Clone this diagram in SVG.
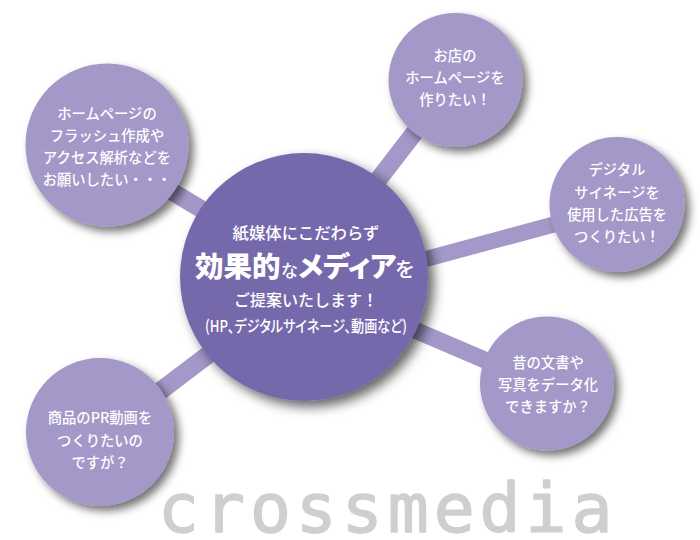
<svg xmlns="http://www.w3.org/2000/svg" width="700" height="540" viewBox="0 0 700 540">
<style>
.jp{font-family:"Noto Sans CJK JP","Noto Sans",sans-serif;fill:#fff;text-anchor:middle;font-size:14.3px;font-weight:500}
.sat{fill:#a398c7;filter:url(#sh)}
.hub{fill:#7669ab;filter:url(#shb)}
.st{text-anchor:start}
</style>
<defs>
<filter id="sh" x="-30%" y="-30%" width="170%" height="170%"><feDropShadow dx="5" dy="5" stdDeviation="4.5" flood-color="#000" flood-opacity="0.55"/></filter>
<filter id="shb" x="-30%" y="-30%" width="170%" height="170%"><feDropShadow dx="6" dy="6" stdDeviation="6" flood-color="#000" flood-opacity="0.6"/></filter>
</defs>
<rect width="700" height="540" fill="#fff"/>
<text id="crossmedia" x="158" y="532" font-family="'DejaVu Sans Mono',monospace" font-size="68" letter-spacing="5" fill="#cfcfcf" stroke="#cfcfcf" stroke-width="1.5" stroke-linejoin="round">crossmedia</text>
<g id="connectors" stroke="#a398c7" fill="none">
<line x1="150" y1="178.4" x2="240" y2="232.4" stroke-width="18"/>
<line x1="439.6" y1="100" x2="349.6" y2="217" stroke-width="18"/>
<line x1="600" y1="212" x2="400" y2="266" stroke-width="16"/>
<line x1="400" y1="323.7" x2="520" y2="375" stroke-width="17"/>
<line x1="130" y1="414" x2="250" y2="323" stroke-width="18"/>
</g>
<g id="node-hub"><circle class="hub" cx="304" cy="277" r="124"/>
<text class="jp" x="306" y="239" style="font-size:16.4px">紙媒体にこだわらず</text>
<text class="jp st" y="277" style="font-weight:900"><tspan x="195" style="font-size:28.5px">効果的</tspan><tspan x="281" style="font-size:17px;font-weight:500">な</tspan><tspan x="298" style="font-size:28px;font-feature-settings:'palt'">メディア</tspan><tspan x="395" style="font-size:20px;font-weight:500">を</tspan></text>
<text class="jp" x="306" y="305.5" style="font-size:16px">ご提案いたします！</text>
<text class="jp" x="306" y="332" style="font-size:16px;font-feature-settings:'palt'" textLength="202" lengthAdjust="spacingAndGlyphs">(HP、デジタルサイネージ、動画など)</text></g>
<g id="node-tl"><circle class="sat" cx="107" cy="145" r="81.5"/>
<text class="jp" x="107" y="118.5">ホームページの</text><text class="jp" x="107" y="140.5">フラッシュ作成や</text><text class="jp" x="107" y="163">アクセス解析などを</text><text class="jp" x="107" y="185">お願いしたい・・・</text></g>
<g id="node-tr"><circle class="sat" cx="455.5" cy="80" r="67"/>
<text class="jp" x="455" y="61">お店の</text><text class="jp" x="455" y="83">ホームページを</text><text class="jp" x="455" y="105">作りたい！</text></g>
<g id="node-r"><circle class="sat" cx="617" cy="204.5" r="67.5"/>
<text class="jp" x="617" y="175">デジタル</text><text class="jp" x="617" y="198">サイネージを</text><text class="jp" x="617" y="220">使用した広告を</text><text class="jp" x="617" y="242">つくりたい！</text></g>
<g id="node-br"><circle class="sat" cx="547" cy="383.5" r="67"/>
<text class="jp" x="548" y="368">昔の文書や</text><text class="jp" x="548" y="390">写真をデータ化</text><text class="jp" x="548" y="412">できますか？</text></g>
<g id="node-bl"><circle class="sat" cx="100" cy="432" r="74"/>
<text class="jp" x="100" y="423">商品のPR動画を</text><text class="jp" x="100" y="446">つくりたいの</text><text class="jp" x="100" y="468">ですが？</text></g>
</svg>
